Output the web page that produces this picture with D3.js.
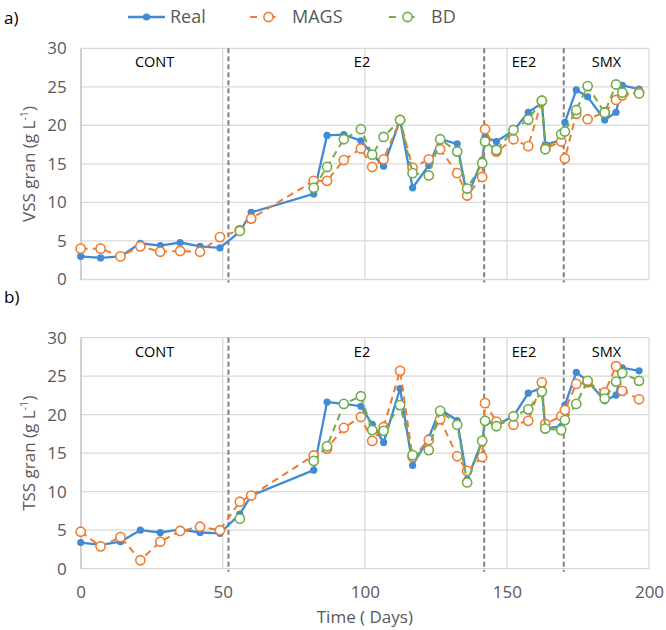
<!DOCTYPE html>
<html>
<head>
<meta charset="utf-8">
<script src="https://cdn.jsdelivr.net/npm/d3@7"></script>
<style>
  body { margin: 0; background: #fff; }
  text { font-family: "Open Sans", "Noto Sans", sans-serif; }
</style>
</head>
<body>
<div id="chart"></div>
<script>
// sampling days (shared by all series)
const days = [0, 7, 14, 21, 28, 35, 42, 49, 56, 60, 82, 86.7, 92.6, 98.6, 102.6, 106.6, 112.4, 116.8,
  122.5, 126.5, 132.5, 136, 141.3, 142.3, 146.3, 152.3, 157.5, 162.3, 163.5, 169.1, 170.4,
  174.4, 178.4, 184.4, 188.4, 190.6, 196.5];

// a) VSS gran
const vssReal = [3.0, 2.8, 3.0, 4.7, 4.4, 4.8, 4.3, 4.1, 6.2, 8.7, 11.1, 18.7, 18.8, 18.0, 16.3, 14.7, 20.7, 11.9,
  14.8, 18.2, 17.6, 10.7, 15.5, 18.5, 17.9, 19.3, 21.7, 22.9, 17.5, 18.1, 20.4,
  24.6, 23.7, 20.7, 21.7, 25.2, 24.7];
const vssMags = [4.0, 4.0, 3.0, 4.3, 3.6, 3.7, 3.6, 5.5, 6.4, 7.9, 12.8, 12.8, 15.5, 17.0, 14.6, 15.6, 20.7, 14.5,
  15.6, 16.9, 13.8, 10.9, 13.3, 19.5, 16.6, 18.2, 17.3, 23.2, 17.0, 17.9, 15.7,
  21.5, 20.8, 21.7, 23.3, 23.9, 24.25];
const vssBd = [null, null, null, null, null, null, null, null, 6.3, null, 11.9, 14.6, 18.2, 19.5, 16.2, 18.5, 20.7, 13.8,
  13.5, 18.2, 16.6, 11.8, 15.1, 17.9, 16.8, 19.4, 20.75, 23.2, 16.9, 18.85, 19.2,
  22.0, 25.1, 21.65, 25.3, 24.25, 24.15];

// b) TSS gran
const tssReal = [3.4, 3.1, 3.5, 5.0, 4.7, 5.1, 4.7, 4.6, 7.1, 9.5, 12.8, 21.65, 21.4, 21.1, 18.75, 16.4, 23.4, 13.4,
  17.0, 20.7, 19.25, 11.6, 16.6, 19.3, 18.7, 19.8, 22.8, 23.5, 18.2, 18.5, 21.25,
  25.5, 24.4, 21.8, 22.55, 26.1, 25.7];
const tssMags = [4.8, 2.9, 4.1, 1.1, 3.5, 4.9, 5.45, 5.0, 8.7, 9.5, 14.7, 15.6, 18.3, 19.7, 16.6, 18.4, 25.7, 14.5,
  16.7, 19.4, 14.6, 12.7, 14.5, 21.5, 19.1, 18.7, 19.2, 24.2, 18.8, 19.8, 20.6,
  24.0, 24.2, 22.9, 26.3, 23.1, 22.0];
const tssBd = [null, null, null, null, null, null, null, null, 6.5, null, 14.0, 15.9, 21.4, 22.4, 18.0, 17.9, 21.25, 14.75,
  15.4, 20.5, 18.7, 11.2, 16.6, 19.2, 18.5, 19.8, 20.7, 23.0, 18.2, 18.0, 19.3,
  21.4, 24.4, 22.1, 24.3, 25.4, 24.4];

// phases
const phaseBounds = [52, 142, 170];
const phaseNames = ["CONT", "E2", "EE2", "SMX"];
const phaseLabelDays = [26, 99, 156, 185];

const xTicks = [0, 50, 100, 150, 200];
const yTicks = [0, 5, 10, 15, 20, 25, 30];

const seriesNames = ["Real", "MAGS", "BD"];
const colors = { Real: "#418ad4", MAGS: "#ed7d31", BD: "#70ad47" };

const width = 666, height = 630;
const svg = d3.select("#chart").append("svg")
  .attr("width", width).attr("height", height);

const x = d3.scaleLinear().domain([0, 200]).range([80.7, 649]);

const panels = [
  { tag: "a)", title: "VSS gran", top: 48.3, bottom: 279.5, tagY: 24, data: [vssReal, vssMags, vssBd], xLabels: false },
  { tag: "b)", title: "TSS gran", top: 337.7, bottom: 568.7, tagY: 303, data: [tssReal, tssMags, tssBd], xLabels: true }
];

panels.forEach(function (p) {
  const y = d3.scaleLinear().domain([0, 30]).range([p.bottom, p.top]);
  const g = svg.append("g");

  // grid
  g.selectAll("line.hgrid").data(yTicks).join("line")
    .attr("x1", x(0)).attr("x2", x(200))
    .attr("y1", d => y(d)).attr("y2", d => y(d))
    .attr("stroke", "#d9d9d9").attr("stroke-width", 1.3);
  g.selectAll("line.vgrid").data(xTicks).join("line")
    .attr("x1", d => x(d)).attr("x2", d => x(d))
    .attr("y1", y(0)).attr("y2", y(30))
    .attr("stroke", "#d9d9d9").attr("stroke-width", 1.3);

  // y axis labels
  const yAxis = g.append("g")
    .attr("transform", "translate(" + x(0) + ",0)")
    .call(d3.axisLeft(y).tickValues(yTicks).tickSize(0).tickPadding(14));
  yAxis.select(".domain").attr("stroke", "#bfbfbf");
  yAxis.selectAll("text").attr("font-size", 17).attr("fill", "#595959")
    .attr("font-family", "'Open Sans', sans-serif");

  if (p.xLabels) {
    const xAxis = g.append("g")
      .attr("transform", "translate(0," + y(0) + ")")
      .call(d3.axisBottom(x).tickValues(xTicks).tickSize(0).tickPadding(17));
    xAxis.select(".domain").remove();
    xAxis.selectAll("text").attr("font-size", 17).attr("fill", "#595959")
      .attr("font-family", "'Open Sans', sans-serif");
    g.append("text").attr("x", (x(0) + x(200)) / 2).attr("y", 623)
      .attr("text-anchor", "middle").attr("font-size", 17).attr("fill", "#595959")
      .text("Time ( Days)");
  }

  // y title
  const yt = g.append("text")
    .attr("transform", "translate(35," + (p.top + p.bottom) / 2 + ") rotate(-90)")
    .attr("text-anchor", "middle").attr("font-size", 17).attr("fill", "#595959");
  yt.append("tspan").text(p.title + " (g L");
  yt.append("tspan").attr("font-size", 11).attr("dy", -7).text("-1");
  yt.append("tspan").attr("dy", 7).text(")");

  // panel tag
  svg.append("text").attr("x", 4).attr("y", p.tagY).attr("font-size", 17).attr("fill", "#000").text(p.tag);

  // phase boundaries
  g.selectAll("line.phase").data(phaseBounds).join("line")
    .attr("x1", d => x(d)).attr("x2", d => x(d))
    .attr("y1", y(30)).attr("y2", y(0) + 3)
    .attr("stroke", "#7f7f7f").attr("stroke-width", 2).attr("stroke-dasharray", "5,3");

  g.selectAll("text.phase").data(phaseNames).join("text")
    .attr("x", (d, i) => x(phaseLabelDays[i])).attr("y", y(30) + 19)
    .attr("text-anchor", "middle").attr("font-size", 14.5).attr("fill", "#000")
    .text(d => d);

  // series
  p.data.forEach(function (vals, si) {
    const name = seriesNames[si];
    const pts = days.map((d, i) => ({ d: d, v: vals[i] }));
    const line = d3.line().defined(q => q.v != null).x(q => x(q.d)).y(q => y(q.v));
    g.append("path").datum(pts)
      .attr("fill", "none").attr("stroke", colors[name])
      .attr("stroke-width", name === "Real" ? 2.3 : 2)
      .attr("stroke-dasharray", name === "Real" ? null : "7,5")
      .attr("d", line);
    g.selectAll("circle.s" + si).data(pts.filter(q => q.v != null)).join("circle")
      .attr("cx", q => x(q.d)).attr("cy", q => y(q.v))
      .attr("r", name === "Real" ? 3.6 : 4.6)
      .attr("fill", name === "Real" ? colors[name] : "#fff")
      .attr("stroke", colors[name]).attr("stroke-width", name === "Real" ? 0 : 1.6);
  });
});

// legend
const legendX = [128, 250, 389];
const legend = svg.append("g");
seriesNames.forEach(function (name, i) {
  const lx = legendX[i], ly = 17;
  legend.append("line").attr("x1", lx).attr("x2", lx + 37).attr("y1", ly).attr("y2", ly)
    .attr("stroke", colors[name]).attr("stroke-width", name === "Real" ? 2.3 : 2)
    .attr("stroke-dasharray", name === "Real" ? null : "7,11.5");
  legend.append("circle").attr("cx", lx + 18.5).attr("cy", ly)
    .attr("r", name === "Real" ? 3.6 : 4.6)
    .attr("fill", name === "Real" ? colors[name] : "#fff")
    .attr("stroke", colors[name]).attr("stroke-width", name === "Real" ? 0 : 1.6);
  legend.append("text").attr("x", lx + 42).attr("y", ly + 6)
    .attr("font-size", 18).attr("fill", "#595959").text(name);
});
</script>
</body>
</html>
